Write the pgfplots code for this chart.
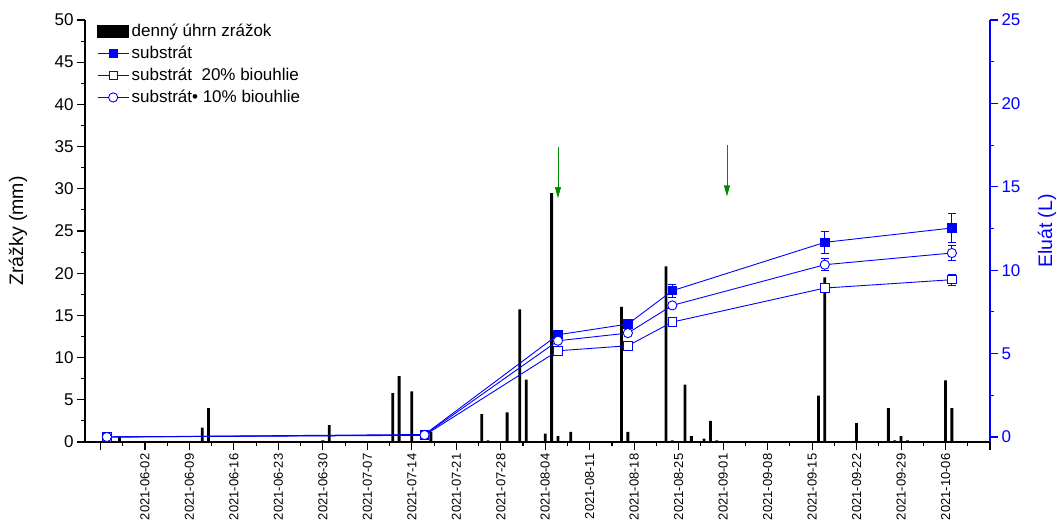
\documentclass[border=0pt]{standalone}
\usepackage{pgfplots}
\pgfplotsset{compat=1.18}
\usepackage{pgfplotstable}
\usepackage{fontspec}
\setmainfont{Liberation Sans}
\usetikzlibrary{arrows.meta}

\pgfplotstableread{
x y
-4 0.6
9 1.7
10 4.0
28 0.2
29 2.0
39 5.8
40 7.8
42 6.0
45 1.2
53 3.3
54 0.2
57 3.5
59 15.7
60 7.4
63 1.0
64 29.5
65 0.7
67 1.2
75 16.0
76 1.2
82 20.8
83 0.2
85 6.8
86 0.7
88 0.4
89 2.5
90 0.2
106 5.5
107 19.5
112 2.25
117 4.0
118 0.2
119 0.7
120 0.2
126 7.3
127 4.0
}\rain

\pgfplotstableread{
x y e
-6 0 0
44 0.15 0
65 6.13 0.1
76 6.77 0.1
83 8.77 0.4
107 11.67 0.65
127 12.53 0.85
}\subst

\pgfplotstableread{
x y e
-6 0 0
44 0.10 0
65 5.17 0.05
76 5.47 0.08
83 6.89 0.15
107 8.93 0.12
127 9.43 0.32
}\subtwenty

\pgfplotstableread{
x y e
-6 0 0
44 0.12 0
65 5.77 0.1
76 6.23 0.1
83 7.89 0.2
107 10.33 0.36
127 11.03 0.46
}\subten

\definecolor{arrgreen}{RGB}{0,140,0}
\definecolor{lblue}{RGB}{0,0,255}

\begin{document}
\begin{tikzpicture}[x=1pt,y=1pt]
\pgfplotsset{
  every axis/.append style={
    /pgf/number format/assume math mode=true,
    at={(85pt,78pt)}, anchor=south west,
    scale only axis, width=905pt, height=422pt,
    xmin=-9.44, xmax=133,
    tick align=outside,
    major tick length=8pt, minor tick length=4pt,
    axis line style={line width=1.2pt},
    tick label style={font=\fontsize{17}{20}\selectfont},
    label style={font=\fontsize{19.5}{23}\selectfont},
  }
}
\begin{axis}[
  ymin=0, ymax=50,
  axis x line*=bottom, axis y line*=left,
  tick style={line width=1.1pt, black},
  xtick={-7,0,7,...,133},
  xticklabels={,2021-06-02,2021-06-09,2021-06-16,2021-06-23,2021-06-30,2021-07-07,2021-07-14,2021-07-21,2021-07-28,2021-08-04,2021-08-11,2021-08-18,2021-08-25,2021-09-01,2021-09-08,2021-09-15,2021-09-22,2021-09-29,2021-10-06,},
  minor x tick num=1,
  ytick={0,5,...,50},
  minor y tick num=1,
  xticklabel style={rotate=90, anchor=east, font=\fontsize{13}{15}\selectfont},
  ylabel={Zrážky (mm)},
  ylabel style={at={(axis description cs:-0.074,0.5)}, anchor=center},
]
\addplot[ybar, bar width=2.8pt, fill=black, draw=none] table[x=x,y=y] {\rain};
\draw[-{Triangle[width=6pt,length=11pt]}, arrgreen, line width=0.8pt] (axis cs:65,35) -- (axis cs:65,28.9);
\draw[-{Triangle[width=6pt,length=11pt]}, arrgreen, line width=0.8pt] (axis cs:91.6,35.2) -- (axis cs:91.6,29.1);
\end{axis}

\begin{axis}[
  ymin=-0.3, ymax=25,
  axis x line=none, axis y line*=right,
  ytick={0,5,...,25},
  minor y tick num=1,
  y axis line style={lblue},
  tick style={line width=1.1pt, lblue},
  yticklabel style={lblue},
  ylabel={Eluát (L)},
  ylabel style={lblue, at={(axis description cs:1.063,0.5)}, anchor=center},
  legend style={at={(axis description cs:0.0133,0.996)}, anchor=north west, draw=none, fill=none,
     inner sep=0pt, font=\fontsize{17}{20}\selectfont, row sep=3pt,
     nodes={inner sep=2.5pt}},
  legend cell align=left,
  every axis plot/.append style={lblue, line width=0.9pt, mark size=4.2pt,
     error bars/y dir=both, error bars/y explicit,
     error bars/error bar style={line width=0.9pt},
     error bars/error mark options={rotate=90, mark size=4pt, line width=0.9pt}},
]
\addlegendimage{legend image code/.code={\fill[black] (0pt,-6pt) rectangle (31pt,6pt);}}
\addlegendentry{denný úhrn zrážok}
\addlegendimage{legend image code/.code={\draw[lblue, line width=0.9pt] (0pt,0pt) -- (31pt,0pt);
   \fill[lblue] (11.3pt,-4.2pt) rectangle (19.7pt,4.2pt);}}
\addlegendentry{substrát}
\addlegendimage{legend image code/.code={\draw[lblue, line width=0.9pt] (0pt,0pt) -- (31pt,0pt);
   \filldraw[draw=lblue, fill=white, line width=0.9pt] (11.3pt,-4.2pt) rectangle (19.7pt,4.2pt);}}
\addlegendentry{substrát\ \ 20\% biouhlie}
\addlegendimage{legend image code/.code={\draw[lblue, line width=0.9pt] (0pt,0pt) -- (31pt,0pt);
   \filldraw[draw=lblue, fill=white, line width=0.9pt] (15.5pt,0pt) circle (4.6pt);}}
\addlegendentry{substrát• 10\% biouhlie}
\addplot[forget plot, color=lblue, mark=square*, mark options={fill=lblue, solid}] table[x=x,y=y,y error=e] {\subst};
\addplot[forget plot, color=lblue, mark=square*, mark options={fill=white, draw=lblue, solid}] table[x=x,y=y,y error=e] {\subtwenty};
\addplot[forget plot, color=lblue, mark=*, mark size=4.6pt, mark options={fill=white, draw=lblue, solid}] table[x=x,y=y,y error=e] {\subten};
\end{axis}
\pgfresetboundingbox
\path[use as bounding box] (0,0) rectangle (1057,520);
\end{tikzpicture}
\end{document}
